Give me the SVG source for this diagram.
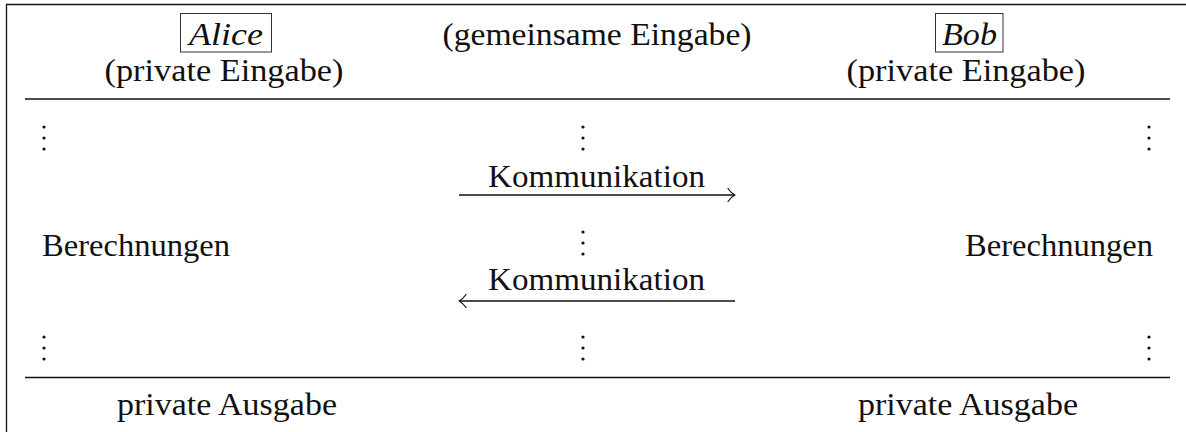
<svg xmlns="http://www.w3.org/2000/svg" width="1186" height="432" viewBox="0 0 1186 432">
  <style>
    text { font-family: "Liberation Serif", "Times New Roman", serif; font-size: 31px; fill: #111; }
    .name { font-style: italic; }
    .rule { stroke: #111; stroke-width: 1.4; fill: none; }
    .frame { stroke: #111; stroke-width: 1.3; fill: none; }
    .box { stroke: #333; stroke-width: 1; fill: none; }
    .msg { stroke: #111; stroke-width: 1.3; fill: none; }
    .head { stroke: #111; stroke-width: 1.2; fill: none; stroke-linecap: round; stroke-linejoin: round; }
    .dot { fill: #111; }
  </style>
  <defs>
    <g id="vdots">
      <circle class="dot" cx="0" cy="0" r="1.6"/>
      <circle class="dot" cx="0" cy="11" r="1.6"/>
      <circle class="dot" cx="0" cy="22" r="1.6"/>
    </g>
  </defs>

  <rect width="1186" height="432" fill="#fff"/>

  <!-- outer frame (top and left edges) -->
  <path class="frame" d="M6.5 432 V4.5 H1186"/>

  <!-- horizontal rules under the header and above the outputs -->
  <line class="rule" x1="25" y1="99" x2="1170" y2="99"/>
  <line class="rule" x1="25" y1="377.5" x2="1170" y2="377.5"/>

  <!-- Alice column -->
  <g id="alice">
    <rect class="box" x="180.5" y="13.5" width="91" height="38.5"/>
    <text class="name" x="226" y="45" text-anchor="middle" textLength="74" lengthAdjust="spacingAndGlyphs">Alice</text>
    <text x="224" y="81" text-anchor="middle" textLength="239" lengthAdjust="spacingAndGlyphs">(private Eingabe)</text>
    <use href="#vdots" x="44" y="127"/>
    <text x="42" y="256" textLength="188" lengthAdjust="spacingAndGlyphs">Berechnungen</text>
    <use href="#vdots" x="44" y="337"/>
    <text x="227" y="415" text-anchor="middle" textLength="220" lengthAdjust="spacingAndGlyphs">private Ausgabe</text>
  </g>

  <!-- shared input column -->
  <g id="shared">
    <text x="597" y="45" text-anchor="middle" textLength="309" lengthAdjust="spacingAndGlyphs">(gemeinsame Eingabe)</text>
    <use href="#vdots" x="583" y="127"/>
    <use href="#vdots" x="583" y="232"/>
    <use href="#vdots" x="583" y="337"/>
  </g>

  <!-- Bob column -->
  <g id="bob">
    <rect class="box" x="935.5" y="13.5" width="67.5" height="38.5"/>
    <text class="name" x="969.5" y="45" text-anchor="middle" textLength="55" lengthAdjust="spacingAndGlyphs">Bob</text>
    <text x="966" y="81" text-anchor="middle" textLength="239" lengthAdjust="spacingAndGlyphs">(private Eingabe)</text>
    <use href="#vdots" x="1149" y="127"/>
    <text x="965" y="256" textLength="188" lengthAdjust="spacingAndGlyphs">Berechnungen</text>
    <use href="#vdots" x="1149" y="337"/>
    <text x="968" y="415" text-anchor="middle" textLength="220" lengthAdjust="spacingAndGlyphs">private Ausgabe</text>
  </g>

  <!-- messages between the parties -->
  <g id="connectors">
    <g id="msg-ab">
      <text x="596.5" y="187" text-anchor="middle" textLength="217" lengthAdjust="spacingAndGlyphs">Kommunikation</text>
      <line class="msg" x1="459" y1="195" x2="734" y2="195"/>
      <path class="head" d="M728 188.5 Q731 193 735 195 Q731 197 728 201.5"/>
    </g>
    <g id="msg-ba">
      <text x="596.5" y="290" text-anchor="middle" textLength="217" lengthAdjust="spacingAndGlyphs">Kommunikation</text>
      <line class="msg" x1="460" y1="301" x2="735" y2="301"/>
      <path class="head" d="M466 294.5 Q463 299 459 301 Q463 303 466 307.5"/>
    </g>
  </g>
</svg>
